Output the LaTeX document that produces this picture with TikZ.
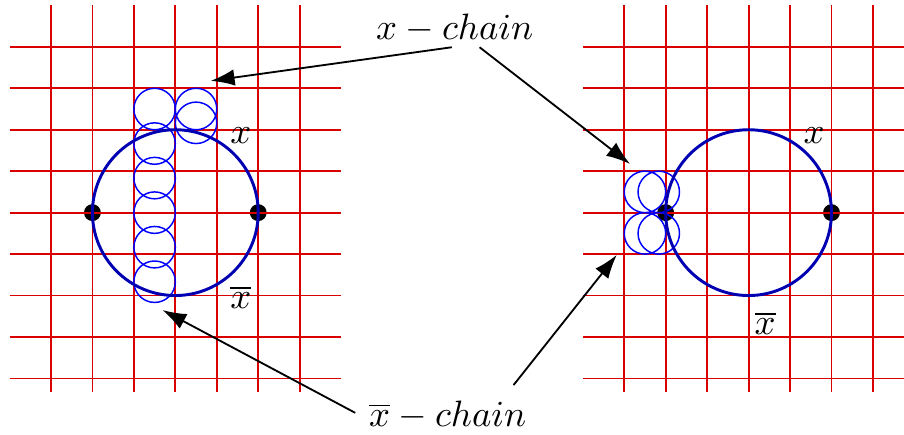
\documentclass[tikz,border=0pt]{standalone}
\usetikzlibrary{arrows.meta}
\tikzset{
  gridline/.style={red!85!black,line width=0.5pt},
  loopline/.style={blue!70!black,thick},
  ball/.style={blue,line width=0.4pt},
  pointer/.style={->,line width=0.5pt}
}
\begin{document}
\begin{tikzpicture}[x=11.29pt,y=11.29pt,>={Latex[length=6.5pt,width=4.5pt]}]
\clip (-4.23,-5.36) rectangle (17.58,5.13);
% left: loop with a long chain
\fill (-2,0) circle (2.3pt) (2,0) circle (2.3pt);
\foreach \y in {-4,...,4} \draw[gridline] (-4,\y)--(4,\y);
\foreach \x in {-3,...,3} \draw[gridline] (\x,-4.33)--(\x,5);
\foreach \y in {2.5,1.6667,0.8333,0,-0.8333,-1.6667} \draw[ball] (-0.5,\y) circle (0.5);
\draw[ball] (0.5,2.5) circle (0.5) (0.5,2.1667) circle (0.5);
\draw[loopline] (0,0) circle (2);
\node[anchor=base] (xl) at (1.58,1.675) {$x$};
\node[anchor=base] (xbarl) at (1.58,-2.32) {$\overline{x}$};
% right: loop with a short chain
\begin{scope}[shift={(13.83,0)}]
\fill (-2,0) circle (2.3pt) (2,0) circle (2.3pt);
\foreach \y in {-4,...,4} \draw[gridline] (-4,\y)--(4,\y);
\foreach \x in {-3,...,3} \draw[gridline] (\x,-4.33)--(\x,5);
\draw[ball] (-2.5,0.5) circle (0.5) (-2.1667,0.5) circle (0.5) (-2.5,-0.5) circle (0.5) (-2.1667,-0.5) circle (0.5);
\draw[loopline] (0,0) circle (2);
\node[anchor=base] (xr) at (1.58,1.675) {$x$};
\node[anchor=base] (xbarr) at (0.40,-2.95) {$\overline{x}$};
\end{scope}
% labels and pointers
\node[anchor=base] (xchain) at (6.74,4.17) {$x-chain$};
\node[anchor=base] (xbarchain) at (6.57,-5.16) {$\overline{x}-chain$};
\coordinate (s1) at (6.67,3.99); \coordinate (s2) at (7.34,3.99);
\coordinate (s3) at (4.34,-4.83); \coordinate (s4) at (8.16,-4.16);
\coordinate (t1) at (0.854,3.18); \coordinate (t2) at (10.97,1.175);
\coordinate (t3) at (-0.31,-2.35); \coordinate (t4) at (10.65,-1.02);
\draw[pointer] (s1)--(t1); \draw[pointer] (s2)--(t2);
\draw[pointer] (s3)--(t3); \draw[pointer] (s4)--(t4);
\end{tikzpicture}
\end{document}
